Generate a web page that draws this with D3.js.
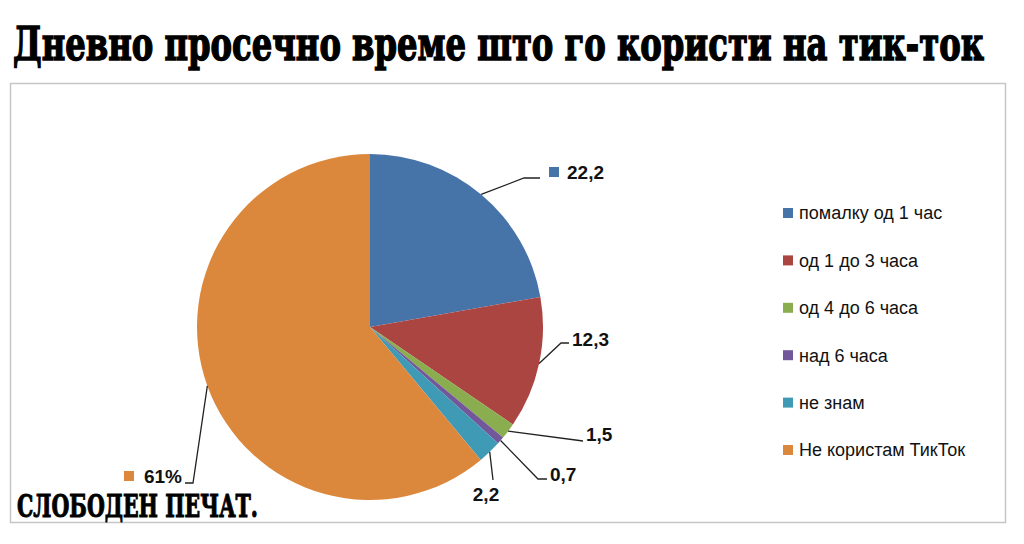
<!DOCTYPE html>
<html>
<head>
<meta charset="utf-8">
<script src="https://cdn.jsdelivr.net/npm/d3@7"></script>
<style>
  body { margin: 0; background: #fff; }
  svg { display: block; }
</style>
</head>
<body>
<div id="chart"></div>
<script>
// data
const categories = ["помалку од 1 час", "од 1 до 3 часа", "од 4 до 6 часа", "над 6 часа", "не знам", "Не користам ТикТок"];
const values = [22.2, 12.3, 1.5, 0.7, 2.2, 61];
const valueLabels = ["22,2", "12,3", "1,5", "0,7", "2,2", "61%"];
const colors = ["#4674a9", "#ab4542", "#8aad4f", "#72589a", "#3f9bb5", "#dc883c"];

// leader line bends and label spots (layout only)
const labelLayout = [
  {pts: [[524, 178], [540, 178]], tx: 567, ty: 172, anchor: "start", key: true},
  {pts: [[561, 343], [569, 343]], tx: 572, ty: 339, anchor: "start", key: false},
  {pts: [[583, 441]], tx: 586, ty: 434, anchor: "start", key: false},
  {pts: [[538, 479], [547, 479]], tx: 550, ty: 474, anchor: "start", key: false},
  {pts: [[493, 480]], tx: 486, ty: 494, anchor: "middle", key: false},
  {pts: [[193, 483], [185, 483]], tx: 182, ty: 476, anchor: "end", key: true}
];

let width = 1024, height = 544;
let cx = 370, cy = 327, radius = 173;

let svg = d3.select("#chart")
  .append("svg")
    .attr("width", width)
    .attr("height", height);

// frame
svg.append("rect")
  .attr("x", 10.5).attr("y", 83.5)
  .attr("width", 995).attr("height", 439)
  .attr("fill", "#fff")
  .attr("stroke", "#c6c6c6")
  .attr("stroke-width", 1.5);

// title
svg.append("text")
  .attr("transform", "translate(13,60) scale(1,1.3)")
  .attr("textLength", 971)
  .attr("lengthAdjust", "spacingAndGlyphs")
  .style("font", "bold 36px 'DejaVu Serif Condensed', 'DejaVu Serif', serif")
  .attr("fill", "#000")
  .attr("stroke", "#000")
  .attr("stroke-width", 1.1)
  .text("Дневно просечно време што го користи на тик-ток");

let pie = d3.pie().sort(null).value(d => d);
let arcs = pie(values);
let arc = d3.arc().innerRadius(0).outerRadius(radius);
let edge = d3.arc().innerRadius(radius).outerRadius(radius);

let g = svg.append("g").attr("transform", "translate(" + cx + "," + cy + ")");

g.selectAll("path.slice")
  .data(arcs)
  .enter().append("path")
    .attr("class", "slice")
    .attr("d", arc)
    .attr("fill", (d, i) => colors[i]);

// leader lines
let line = d3.line();
svg.selectAll("path.leader")
  .data(arcs)
  .enter().append("path")
    .attr("class", "leader")
    .attr("d", (d, i) => {
      let c = edge.centroid(d);
      return line([[c[0] + cx, c[1] + cy]].concat(labelLayout[i].pts));
    })
    .attr("fill", "none")
    .attr("stroke", "#222")
    .attr("stroke-width", 1.3);

// value labels
svg.selectAll("text.val")
  .data(valueLabels)
  .enter().append("text")
    .attr("class", "val")
    .attr("x", (d, i) => labelLayout[i].tx)
    .attr("y", (d, i) => labelLayout[i].ty)
    .attr("dy", "0.36em")
    .attr("text-anchor", (d, i) => labelLayout[i].anchor)
    .style("font", "bold 19px 'Liberation Sans', Arial, sans-serif")
    .attr("fill", "#111")
    .text(d => d);

// small colour keys next to some labels
svg.selectAll("rect.valkey")
  .data(labelLayout.map((l, i) => ({l: l, i: i})).filter(o => o.l.key))
  .enter().append("rect")
    .attr("class", "valkey")
    .attr("x", o => o.l.anchor === "start" ? o.l.tx - 18 : o.l.tx - 58)
    .attr("y", o => o.l.ty - 5)
    .attr("width", 10).attr("height", 10)
    .attr("fill", o => colors[o.i]);

// legend
let legend = svg.append("g").attr("transform", "translate(783,213)");
let rows = legend.selectAll("g.row")
  .data(categories)
  .enter().append("g")
    .attr("class", "row")
    .attr("transform", (d, i) => "translate(0," + (i * 47.4) + ")");
rows.append("rect")
  .attr("x", 0).attr("y", -5)
  .attr("width", 10).attr("height", 10)
  .attr("fill", (d, i) => colors[i]);
rows.append("text")
  .attr("x", 16).attr("dy", "0.36em")
  .style("font", "18px 'Liberation Sans', Arial, sans-serif")
  .attr("fill", "#111")
  .text(d => d);

// watermark
svg.append("text")
  .attr("transform", "translate(17,517) scale(1,1.25)")
  .attr("textLength", 241)
  .attr("lengthAdjust", "spacingAndGlyphs")
  .style("font", "bold 26px 'DejaVu Serif Condensed', 'DejaVu Serif', serif")
  .attr("fill", "#000")
  .attr("stroke", "#000")
  .attr("stroke-width", 0.8)
  .text("СЛОБОДЕН ПЕЧАТ.");
</script>
</body>
</html>
